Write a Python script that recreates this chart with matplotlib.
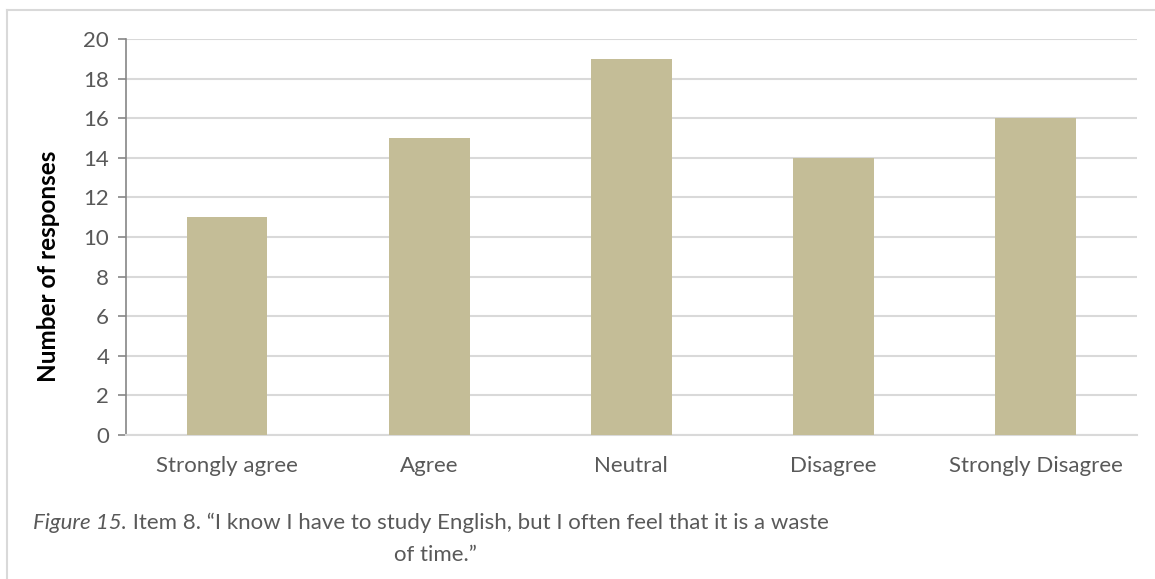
import matplotlib.pyplot as plt
from matplotlib.lines import Line2D

categories = ["Strongly agree", "Agree", "Neutral", "Disagree", "Strongly Disagree"]
responses = [11, 15, 19, 14, 16]
y_ticks = [0, 2, 4, 6, 8, 10, 12, 14, 16, 18, 20]

caption_italic = "Figure 15."
caption_rest = " Item 8. \u201cI know I have to study English, but I often feel that it is a waste"
caption_line2 = "of time.\u201d"

plt.rcParams["font.family"] = ["Lato", "DejaVu Sans"]

text_gray = "#595959"
grid_gray = "#D9D9D9"
bar_color = "#C4BD97"
fs = 16

fig = plt.figure(figsize=(11.55, 5.79), dpi=100)
ax = fig.add_axes([0.109, 0.2487, 0.875, 0.6839])

x = range(len(categories))
ax.bar(x, responses, width=0.4, color=bar_color, zorder=3)

ax.set_xlim(-0.5, len(categories) - 0.5)
ax.set_ylim(0, 20)
ax.set_yticks(y_ticks)
ax.set_xticks(list(x))
ax.set_xticklabels(categories)

ax.yaxis.grid(True, color=grid_gray, linewidth=1.5, zorder=0)
ax.set_axisbelow(True)

for side in ["top", "right"]:
    ax.spines[side].set_visible(False)
ax.spines["bottom"].set_color(grid_gray)
ax.spines["bottom"].set_linewidth(1.5)
ax.spines["left"].set_color("#868686")
ax.spines["left"].set_linewidth(1.2)

ax.tick_params(axis="y", colors="#868686", labelcolor=text_gray, labelsize=fs,
               length=6, width=1.2, pad=6)
ax.tick_params(axis="x", length=0, labelcolor=text_gray, labelsize=fs, pad=15)

ax.set_ylabel("Number of responses", fontsize=17.5, fontweight="bold", color="black")
ax.yaxis.set_label_coords((60 - 126) / (0.875 * 1155), 0.4255)

# outer frame (top and left edges only, the rest runs off the canvas)
frame_kw = dict(color=grid_gray, linewidth=1.5, transform=fig.transFigure)
fig.add_artist(Line2D([7 / 1155, 1.0], [1 - 10 / 579, 1 - 10 / 579], **frame_kw))
fig.add_artist(Line2D([7 / 1155, 7 / 1155], [0.0, 1 - 10 / 579], **frame_kw))

# caption: italic lead-in followed by plain text, second line centred below
y1 = 1 - 523 / 579
t1 = fig.text(33 / 1155, y1, caption_italic, fontsize=fs, style="italic",
              color=text_gray, va="center", ha="left")
fig.canvas.draw()
bb = t1.get_window_extent()
fig.text(bb.x1 / fig.bbox.width, y1, caption_rest, fontsize=fs,
         color=text_gray, va="center", ha="left")
fig.text(435 / 1155, 1 - 555 / 579, caption_line2, fontsize=fs,
         color=text_gray, va="center", ha="center")

fig.savefig("out.png", dpi=100)
